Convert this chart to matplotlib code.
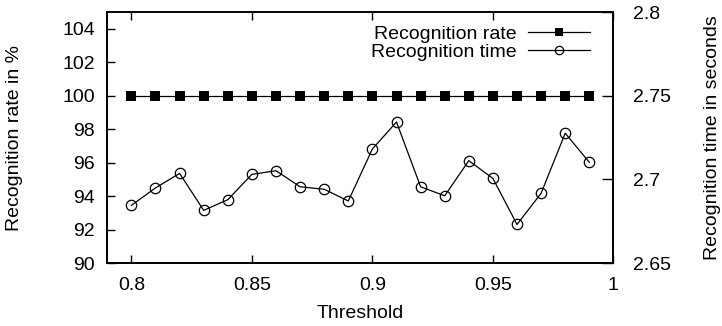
import matplotlib
matplotlib.use("Agg")
import matplotlib.pyplot as plt

plt.rcParams['font.family'] = ['Liberation Sans', 'DejaVu Sans']

# threshold values on the x axis
thresholds = [0.80, 0.81, 0.82, 0.83, 0.84, 0.85, 0.86, 0.87, 0.88, 0.89,
              0.90, 0.91, 0.92, 0.93, 0.94, 0.95, 0.96, 0.97, 0.98, 0.99]
# recognition rate in % (left axis)
recog_rate = [100] * 20
# recognition time in seconds (right axis)
recog_time = [2.6845, 2.6949, 2.7036, 2.6815, 2.6879, 2.7030, 2.7052, 2.6956, 2.6941, 2.6871,
              2.7182, 2.7343, 2.6956, 2.6902, 2.7112, 2.7006, 2.6731, 2.6917, 2.7276, 2.7102]

x_ticks = [0.8, 0.85, 0.9, 0.95, 1.0]
x_ticklabels = ['0.8', '0.85', '0.9', '0.95', '1']
left_ticks = [90, 92, 94, 96, 98, 100, 102, 104]
right_ticks = [2.65, 2.7, 2.75, 2.8]
right_ticklabels = ['2.65', '2.7', '2.75', '2.8']

fs = 14
fig = plt.figure(figsize=(7.22, 3.26), dpi=100)
ax = fig.add_axes([0.1486, 0.193, 0.701, 0.770])
ax2 = ax.twinx()

l1, = ax.plot(thresholds, recog_rate, color='black', lw=0.9, marker='s',
              markersize=7, markerfacecolor='black', markeredgewidth=0)
l2, = ax2.plot(thresholds, recog_time, color='black', lw=0.9, marker='o',
               markersize=7.5, markerfacecolor='none', markeredgecolor='black',
               markeredgewidth=0.9)

ax.set_xlim(0.79, 1.0)
ax.set_ylim(90, 105)
ax2.set_ylim(2.65, 2.8)

ax.set_xticks(x_ticks)
ax.set_xticklabels(x_ticklabels)
ax.set_yticks(left_ticks)
ax2.set_yticks(right_ticks)
ax2.set_yticklabels(right_ticklabels)

ax.tick_params(axis='x', direction='in', length=6, width=1, top=True,
               labelsize=fs, pad=10)
ax.tick_params(axis='y', direction='in', length=6, width=1, labelsize=fs, pad=9)
ax2.tick_params(axis='y', direction='in', length=8, width=1, labelsize=fs, pad=14)

for a in (ax, ax2):
    for s in a.spines.values():
        s.set_linewidth(1.2)

ax.set_xlabel('Threshold', fontsize=fs, labelpad=8)
ax.set_ylabel('Recognition rate in %', fontsize=fs, labelpad=28)
ax2.set_ylabel('Recognition time in seconds', fontsize=fs, labelpad=24)

leg = ax.legend([l1, l2], ['Recognition rate', 'Recognition time'],
                loc='upper right', bbox_to_anchor=(0.985, 1.01), frameon=False,
                markerfirst=False, fontsize=fs, handlelength=3.2,
                handletextpad=0.6, labelspacing=0.05, borderpad=0.3,
                markerscale=0.8)

fig.savefig('out.png', dpi=100)
